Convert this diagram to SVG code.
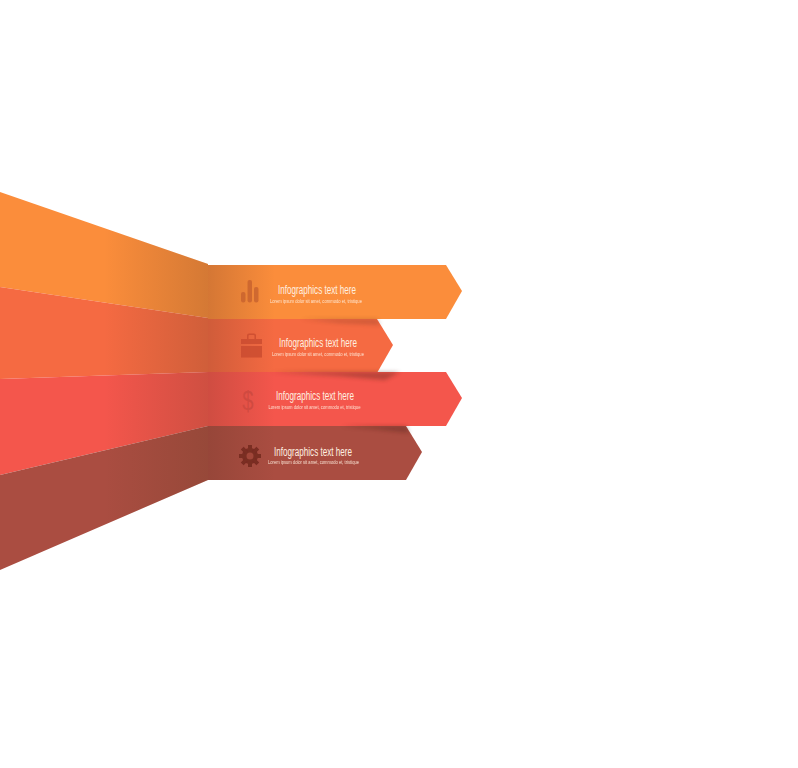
<svg xmlns="http://www.w3.org/2000/svg" width="798" height="768" viewBox="0 0 798 768">
<style>
.t{font-family:"Liberation Sans",Arial,sans-serif;font-size:12.5px;fill:#fff0e0}
.s{font-family:"Liberation Sans",Arial,sans-serif;font-size:5px;fill:#ffeede;opacity:.9}
</style>
<defs>
<linearGradient id="wallShade" x1="0" x2="208" y1="0" y2="0" gradientUnits="userSpaceOnUse">
<stop offset="0.5" stop-color="#5a3a20" stop-opacity="0"/>
<stop offset="1" stop-color="#5a3a20" stop-opacity="0.24"/>
</linearGradient>
<linearGradient id="frontShade" x1="208" x2="275" y1="0" y2="0" gradientUnits="userSpaceOnUse">
<stop offset="0" stop-color="#5a3020" stop-opacity="0.24"/>
<stop offset="1" stop-color="#5a3020" stop-opacity="0"/>
</linearGradient>
<filter id="soft" x="-10%" y="-100%" width="120%" height="300%"><feGaussianBlur stdDeviation="2"/></filter>
<filter id="blur" x="-10%" y="-10%" width="120%" height="120%"><feGaussianBlur stdDeviation="0.4"/></filter>
</defs>
<g id="wall-1"><polygon points="0,192 208,264 208,318 0,287" fill="#fb8d3b"/><polygon points="0,192 208,264 208,318 0,287" fill="url(#wallShade)"/></g>
<g id="wall-2"><polygon points="0,287 208,318 208,372 0,379" fill="#f56a42"/><polygon points="0,287 208,318 208,372 0,379" fill="url(#wallShade)"/></g>
<g id="wall-3"><polygon points="0,379 208,372 208,426 0,475" fill="#f4564c"/><polygon points="0,379 208,372 208,426 0,475" fill="url(#wallShade)"/></g>
<g id="wall-4"><polygon points="0,475 208,426 208,480 0,570" fill="#aa4d41"/><polygon points="0,475 208,426 208,480 0,570" fill="url(#wallShade)"/></g>

<g id="arrow-1">
<polygon points="208,265 446,265 462,291 446,319 208,319" fill="#fb8d3b"/>
<rect x="208" y="265" width="67" height="54" fill="url(#frontShade)"/>
<g fill="#c8622f" opacity="0.8" filter="url(#blur)"><rect x="241" y="292" width="4.500" height="10.500" rx="2"/><rect x="247.500" y="280" width="4.500" height="22.500" rx="2"/><rect x="254" y="287" width="4.500" height="15.500" rx="2"/></g>
<text class="t" x="278" y="294" textLength="78" lengthAdjust="spacingAndGlyphs">Infographics text here</text>
<text class="s" x="270" y="302.500" textLength="92" lengthAdjust="spacingAndGlyphs">Lorem ipsum dolor sit amet, commodo et, tristique</text>
</g>
<g id="arrow-2">
<polygon points="208,319 377,319 393,345 377,373 208,373" fill="#f56a42"/>
<rect x="208" y="319" width="67" height="54" fill="url(#frontShade)"/>
<polygon points="300,319 377,319 381,325 340,323" fill="#4a2015" opacity="0.22" filter="url(#soft)"/>
<g fill="#c8482e" opacity="0.75" filter="url(#blur)"><path d="M241 339h21v5h-21zM241 346h21v11.500h-21z"/><path d="M247 339v-3.500q0-2 2-2h5q2 0 2 2v3.500h-1.500v-3q0-1-1-1h-4q-1 0-1 1v3z"/></g>
<text class="t" x="279" y="347" textLength="78" lengthAdjust="spacingAndGlyphs">Infographics text here</text>
<text class="s" x="272" y="355.500" textLength="92" lengthAdjust="spacingAndGlyphs">Lorem ipsum dolor sit amet, commodo et, tristique</text>
</g>
<g id="arrow-3">
<polygon points="208,372 446,372 462,398 446,426 208,426" fill="#f4564c"/>
<rect x="208" y="372" width="67" height="54" fill="url(#frontShade)"/>
<polygon points="270,372 400,372 385,380 340,376" fill="#4a2015" opacity="0.35" filter="url(#soft)"/>
<text transform="translate(248 410) scale(.75 1)" text-anchor="middle" font-family="Liberation Sans,Arial,sans-serif" font-size="27" fill="#d04a40">$</text>
<text class="t" x="276" y="400" textLength="78" lengthAdjust="spacingAndGlyphs">Infographics text here</text>
<text class="s" x="268.500" y="408.500" textLength="92" lengthAdjust="spacingAndGlyphs">Lorem ipsum dolor sit amet, commodo et, tristique</text>
</g>
<g id="arrow-4">
<polygon points="208,426 406,426 422,452 406,480 208,480" fill="#aa4d41"/>
<rect x="208" y="426" width="67" height="54" fill="url(#frontShade)"/>
<polygon points="340,426 406,426 410,433 375,429" fill="#3a1510" opacity="0.3" filter="url(#soft)"/>
<g filter="url(#blur)"><circle cx="250" cy="456" r="5.500" fill="none" stroke="#7a2d22" stroke-width="5"/><g stroke="#7a2d22" stroke-width="4"><path d="M250 445v22M239 456h22M242.200 448.200l15.600 15.600M257.800 448.200l-15.600 15.600"/></g></g>
<circle cx="250" cy="456" r="3.500" fill="#a04639"/>
<text class="t" x="274" y="455.500" textLength="78" lengthAdjust="spacingAndGlyphs">Infographics text here</text>
<text class="s" x="268" y="464" textLength="91" lengthAdjust="spacingAndGlyphs">Lorem ipsum dolor sit amet, commodo et, tristique</text>
</g>
<g id="connectors"></g>
</svg>
